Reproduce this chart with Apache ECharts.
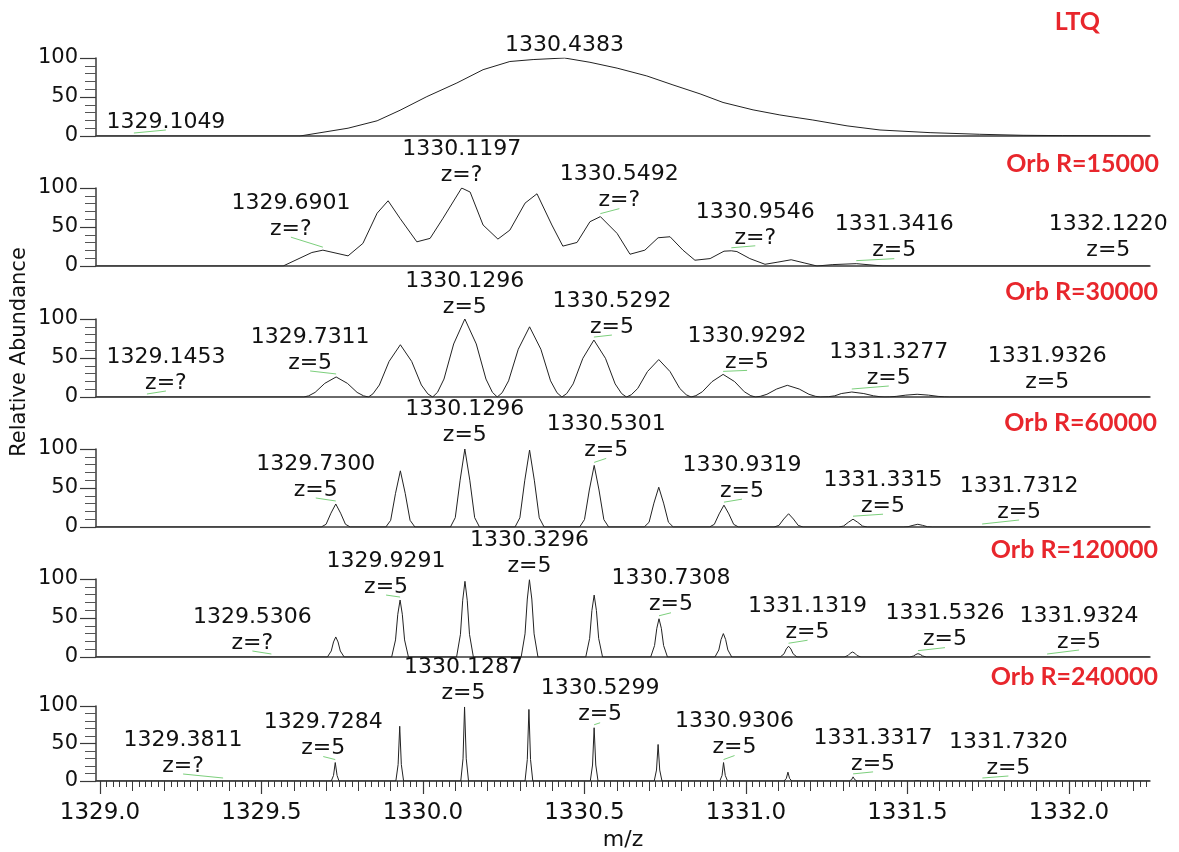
<!DOCTYPE html>
<html>
<head>
<meta charset="utf-8">
<script src="https://cdn.jsdelivr.net/npm/echarts@6/dist/echarts.min.js"></script>
<style>
  html, body { margin: 0; padding: 0; background: #ffffff; }
  #chart { width: 1179px; height: 852px; }
</style>
</head>
<body>
<div id="chart"></div>
<script>
// ---- axis ranges and tick labels ----
const mzRange = [1328.9876, 1332.251];
const majorTickLabels = [1329.0, 1329.5, 1330.0, 1330.5, 1331.0, 1331.5, 1332.0];
const yTickLabels = [0, 50, 100];
const panelTitles = ['LTQ', 'Orb R=15000', 'Orb R=30000', 'Orb R=60000', 'Orb R=120000', 'Orb R=240000'];

// ---- profile spectra: [m/z, relative abundance] ----
const ltqProfile = [
  [1328.99, 0], [1329.619, 0], [1329.768, 10], [1329.858, 19.5], [1329.929, 33], [1330.012, 50.5],
  [1330.105, 68], [1330.186, 85], [1330.269, 95.5], [1330.341, 98], [1330.4383, 100], [1330.517, 94.5],
  [1330.601, 87], [1330.693, 77], [1330.774, 65.5], [1330.858, 54], [1330.929, 43], [1331.022, 33.5],
  [1331.105, 27], [1331.167, 23], [1331.207, 20.5], [1331.313, 13], [1331.415, 7.7], [1331.570, 4.3],
  [1331.724, 2.2], [1331.858, 0.9], [1331.981, 0.5], [1332.25, 0]
];

const orb15000Profile = [
  [1328.99, 0], [1329.567, 0], [1329.656, 17.3], [1329.6901, 20.3], [1329.768, 13], [1329.814, 29],
  [1329.858, 67.7], [1329.892, 83.6], [1329.929, 61], [1329.981, 31], [1330.022, 35.4], [1330.062, 61.2],
  [1330.1197, 100], [1330.146, 94.8], [1330.186, 52.6], [1330.232, 34.5], [1330.269, 46], [1330.316, 80.6],
  [1330.353, 92.6], [1330.399, 52.6], [1330.433, 25.5], [1330.477, 30.2], [1330.517, 56.8], [1330.5492, 63.3],
  [1330.601, 41.8], [1330.641, 15.1], [1330.687, 20.3], [1330.728, 36.2], [1330.765, 37.5], [1330.805, 20.3],
  [1330.842, 7.4], [1330.889, 9.5], [1330.932, 19], [1330.9546, 19.5], [1330.972, 18.5], [1331.012, 9.5],
  [1331.059, 2.2], [1331.099, 5], [1331.14, 8], [1331.18, 4], [1331.22, 0], [1331.269, 1.8],
  [1331.3416, 3], [1331.424, 0], [1332.25, 0]
];

const orb30000Profile = [
  [1328.99, 0], [1329.631, 0], [1329.646, 1.5], [1329.666, 5.9], [1329.696, 17.5], [1329.7311, 25.7],
  [1329.766, 17.5], [1329.796, 5.9], [1329.816, 1.5], [1329.831, 0],
  [1329.845, 4], [1329.865, 15.4], [1329.895, 45.6], [1329.930, 67], [1329.965, 45.6], [1329.995, 15.4],
  [1330.015, 4], [1330.030, 0],
  [1330.045, 6], [1330.065, 23], [1330.095, 68], [1330.1296, 100], [1330.165, 68], [1330.195, 23],
  [1330.215, 6], [1330.230, 0],
  [1330.245, 5.4], [1330.265, 20.7], [1330.295, 61.2], [1330.330, 90], [1330.365, 61.2], [1330.395, 20.7],
  [1330.415, 5.4], [1330.430, 0],
  [1330.445, 4.4], [1330.465, 16.8], [1330.495, 49.6], [1330.5292, 73], [1330.565, 49.6], [1330.595, 16.8],
  [1330.615, 4.4], [1330.630, 0],
  [1330.645, 2.9], [1330.665, 11], [1330.695, 32.6], [1330.730, 48], [1330.765, 32.6], [1330.795, 11],
  [1330.815, 2.9], [1330.830, 0],
  [1330.845, 1.7], [1330.865, 6.7], [1330.895, 19.7], [1330.9292, 29], [1330.965, 19.7], [1330.995, 6.7],
  [1331.015, 1.7], [1331.030, 0],
  [1331.045, 0.9], [1331.065, 3.5], [1331.095, 10.2], [1331.128, 15], [1331.165, 10.2], [1331.195, 3.5],
  [1331.215, 0.9], [1331.230, 0],
  [1331.255, 0.4], [1331.275, 1.5], [1331.295, 4.4], [1331.3277, 6.4], [1331.365, 4.4], [1331.395, 1.5],
  [1331.415, 0.4], [1331.430, 0],
  [1331.445, 0.2], [1331.465, 0.8], [1331.495, 2.4], [1331.530, 3.5], [1331.565, 2.4], [1331.595, 0.8],
  [1331.615, 0.2], [1331.630, 0], [1332.25, 0]
];

const orb60000Profile = [
  [1328.99, 0],
  [1329.685, 0], [1329.700, 3.5], [1329.715, 17.7], [1329.7300, 29.5], [1329.745, 17.7], [1329.760, 3.5], [1329.775, 0],
  [1329.885, 0], [1329.900, 8.6], [1329.915, 43.2], [1329.930, 72], [1329.945, 43.2], [1329.960, 8.6], [1329.975, 0],
  [1330.085, 0], [1330.100, 12], [1330.115, 60], [1330.1296, 100], [1330.145, 60], [1330.160, 12], [1330.175, 0],
  [1330.285, 0], [1330.300, 11.8], [1330.315, 59.2], [1330.330, 98.7], [1330.345, 59.2], [1330.360, 11.8], [1330.375, 0],
  [1330.485, 0], [1330.500, 9.5], [1330.515, 47.4], [1330.5301, 79], [1330.545, 47.4], [1330.560, 9.5], [1330.575, 0],
  [1330.685, 0], [1330.700, 6.1], [1330.715, 30.6], [1330.730, 51], [1330.745, 30.6], [1330.760, 6.1], [1330.775, 0],
  [1330.887, 0], [1330.902, 3.4], [1330.917, 16.8], [1330.9319, 28], [1330.947, 16.8], [1330.962, 3.4], [1330.977, 0],
  [1331.087, 0], [1331.102, 2], [1331.117, 10.2], [1331.132, 17], [1331.147, 10.2], [1331.162, 2], [1331.177, 0],
  [1331.287, 0], [1331.302, 1.2], [1331.317, 6], [1331.3315, 10], [1331.346, 6], [1331.361, 1.2], [1331.376, 0],
  [1331.487, 0], [1331.502, 0.4], [1331.517, 2.1], [1331.532, 3.5], [1331.547, 2.1], [1331.562, 0.4], [1331.577, 0],
  [1332.25, 0]
];

const orb120000Profile = [
  [1328.99, 0],
  [1329.704, 0], [1329.716, 7.7], [1329.723, 19.3], [1329.730, 25.7], [1329.737, 19.3], [1329.744, 7.7], [1329.756, 0],
  [1329.903, 0], [1329.915, 21.9], [1329.922, 54.8], [1329.9291, 73], [1329.936, 54.8], [1329.943, 21.9], [1329.955, 0],
  [1330.104, 0], [1330.116, 29.1], [1330.123, 72.8], [1330.130, 97], [1330.137, 72.8], [1330.144, 29.1], [1330.156, 0],
  [1330.304, 0], [1330.316, 29.7], [1330.323, 74.3], [1330.3296, 99], [1330.337, 74.3], [1330.344, 29.7], [1330.356, 0],
  [1330.504, 0], [1330.516, 23.8], [1330.523, 59.6], [1330.530, 79.4], [1330.537, 59.6], [1330.544, 23.8], [1330.556, 0],
  [1330.705, 0], [1330.717, 14.7], [1330.724, 36.8], [1330.7308, 49], [1330.738, 36.8], [1330.745, 14.7], [1330.757, 0],
  [1330.904, 0], [1330.916, 9], [1330.923, 22.5], [1330.930, 30], [1330.937, 22.5], [1330.944, 9], [1330.956, 0],
  [1331.106, 0], [1331.118, 4.1], [1331.125, 10.4], [1331.1319, 13.8], [1331.139, 10.4], [1331.146, 4.1], [1331.158, 0],
  [1331.304, 0], [1331.316, 1.9], [1331.323, 4.8], [1331.330, 6.4], [1331.337, 4.8], [1331.344, 1.9], [1331.356, 0],
  [1331.507, 0], [1331.519, 1.3], [1331.526, 3.2], [1331.5326, 4.3], [1331.540, 3.2], [1331.547, 1.3], [1331.559, 0],
  [1332.25, 0]
];

const orb240000Profile = [
  [1328.99, 0],
  [1329.716, 0], [1329.723, 7.4], [1329.7284, 24.6], [1329.734, 7.4], [1329.740, 0],
  [1329.916, 0], [1329.923, 21.9], [1329.928, 73], [1329.933, 21.9], [1329.940, 0],
  [1330.117, 0], [1330.124, 29.6], [1330.1287, 98.7], [1330.134, 29.6], [1330.141, 0],
  [1330.316, 0], [1330.323, 28.6], [1330.328, 95.4], [1330.333, 28.6], [1330.340, 0],
  [1330.518, 0], [1330.525, 21.3], [1330.5299, 71], [1330.535, 21.3], [1330.542, 0],
  [1330.716, 0], [1330.723, 14.6], [1330.728, 48.7], [1330.733, 14.6], [1330.740, 0],
  [1330.919, 0], [1330.926, 7.4], [1330.9306, 24.6], [1330.936, 7.4], [1330.943, 0],
  [1331.118, 0], [1331.125, 3.5], [1331.130, 11.8], [1331.135, 3.5], [1331.142, 0],
  [1331.320, 0], [1331.327, 1.7], [1331.3317, 5.5], [1331.337, 1.7], [1331.344, 0],
  [1331.520, 0], [1331.527, 0.4], [1331.532, 1.3], [1331.537, 0.4], [1331.544, 0],
  [1332.25, 0]
];

// ---- labelled centroids per panel: m/z text, charge state, apex abundance ----
const ltqPeakMz = ['1329.1049', '1330.4383'];
const ltqPeakZ = [null, null];
const ltqPeakHeight = [0, 100];

const orb15000PeakMz = ['1329.6901', '1330.1197', '1330.5492', '1330.9546', '1331.3416', '1332.1220'];
const orb15000PeakZ = ['?', '?', '?', '?', '5', '5'];
const orb15000PeakHeight = [20.3, 100, 63.3, 19.5, 3, 0];

const orb30000PeakMz = ['1329.1453', '1329.7311', '1330.1296', '1330.5292', '1330.9292', '1331.3277', '1331.9326'];
const orb30000PeakZ = ['?', '5', '5', '5', '5', '5', '5'];
const orb30000PeakHeight = [0, 25.7, 100, 73, 29, 6.4, 0];

const orb60000PeakMz = ['1329.7300', '1330.1296', '1330.5301', '1330.9319', '1331.3315', '1331.7312'];
const orb60000PeakZ = ['5', '5', '5', '5', '5', '5'];
const orb60000PeakHeight = [29.5, 100, 79, 28, 10, 0];

const orb120000PeakMz = ['1329.5306', '1329.9291', '1330.3296', '1330.7308', '1331.1319', '1331.5326', '1331.9324'];
const orb120000PeakZ = ['?', '5', '5', '5', '5', '5', '5'];
const orb120000PeakHeight = [0, 73, 99, 49, 13.8, 4.3, 0];

const orb240000PeakMz = ['1329.3811', '1329.7284', '1330.1287', '1330.5299', '1330.9306', '1331.3317', '1331.7320'];
const orb240000PeakZ = ['?', '5', '5', '5', '5', '5', '5'];
const orb240000PeakHeight = [0, 24.6, 98.7, 71, 24.6, 5.5, 0];

const profiles = [ltqProfile, orb15000Profile, orb30000Profile, orb60000Profile, orb120000Profile, orb240000Profile];
const peakMz = [ltqPeakMz, orb15000PeakMz, orb30000PeakMz, orb60000PeakMz, orb120000PeakMz, orb240000PeakMz];
const peakZ = [ltqPeakZ, orb15000PeakZ, orb30000PeakZ, orb60000PeakZ, orb120000PeakZ, orb240000PeakZ];
const peakHeight = [ltqPeakHeight, orb15000PeakHeight, orb30000PeakHeight, orb60000PeakHeight, orb120000PeakHeight, orb240000PeakHeight];

// ---- layout ----
const GRID_LEFT = 96, GRID_RIGHT = 29, GRID_HEIGHT = 78;
const gridTops = [58, 188, 319, 449, 579, 706];
// pixel offset of the charge-state line centre from the peak apex
const labelOffsets = [
  [[32, -14], [0, -13]],
  [[-32, -21], [0, -13], [19, -16], [24, -13], [38, -13], [0, -16]],
  [[19, -14], [-26, -14], [0, -12], [18, -13], [24, -12], [37, -14], [0, -15]],
  [[-20, -14], [0, -14], [12, -15], [18, -14], [30, -13], [37, -15]],
  [[-19, -14], [-14, -13], [0, -13], [12, -14], [19, -14], [27, -14], [32, -15]],
  [[-40, -15], [-12, -14], [-1, -14], [6, -13], [11, -15], [20, -13], [26, -13]]
];
// right edge / vertical centre of each panel title
const titleAnchors = [[1100, 22], [1159, 164], [1158, 292], [1157, 423], [1158, 550], [1158, 677]];

const FONT = '"DejaVu Sans", "Liberation Sans", Arial, sans-serif';
const AXIS_COLOR = '#3a3a3a';
const TEXT_COLOR = '#111111';
const LEADER_COLOR = '#7ccf7c';
const TITLE_COLOR = '#e8262c';
const PEAK_FONT = '22px ' + FONT;

// minor tick positions along the m/z axis (every 0.1 and every 0.02)
const tenthTicks = [];
for (let k = 0; k <= 32; k++) tenthTicks.push(Math.round((1329 + k * 0.1) * 1000) / 1000);
const fiftiethTicks = [];
for (let k = 0; k <= 162; k++) fiftiethTicks.push(Math.round((1329 + k * 0.02) * 1000) / 1000);

const grids = gridTops.map(top => ({ left: GRID_LEFT, right: GRID_RIGHT, top: top, height: GRID_HEIGHT }));

const xAxes = gridTops.map((t, i) => ({
  type: 'value', gridIndex: i, position: 'bottom', min: mzRange[0], max: mzRange[1],
  axisLine: { show: true, onZero: false, lineStyle: { color: AXIS_COLOR, width: 1.5 } },
  axisTick: { show: false }, axisLabel: { show: false }, splitLine: { show: false }
}));
Object.assign(xAxes[5], {
  axisTick: { show: true, length: 13, customValues: majorTickLabels, lineStyle: { color: AXIS_COLOR, width: 1.2 } },
  axisLabel: {
    show: true, customValues: majorTickLabels, formatter: v => Number(v).toFixed(1),
    fontFamily: FONT, fontSize: 23, color: TEXT_COLOR, margin: 21
  },
  name: 'm/z', nameLocation: 'middle', nameGap: 48,
  nameTextStyle: { fontFamily: FONT, fontSize: 22, color: TEXT_COLOR }
});
xAxes.push({
  type: 'value', gridIndex: 5, position: 'bottom', min: mzRange[0], max: mzRange[1],
  axisLine: { show: false }, axisLabel: { show: false }, splitLine: { show: false },
  axisTick: { show: true, length: 10, customValues: tenthTicks, lineStyle: { color: AXIS_COLOR, width: 1 } }
});
xAxes.push({
  type: 'value', gridIndex: 5, position: 'bottom', min: mzRange[0], max: mzRange[1],
  axisLine: { show: false }, axisLabel: { show: false }, splitLine: { show: false },
  axisTick: { show: true, length: 6, customValues: fiftiethTicks, lineStyle: { color: AXIS_COLOR, width: 1 } }
});

const yAxes = gridTops.map((t, i) => ({
  type: 'value', gridIndex: i, min: yTickLabels[0], max: yTickLabels[yTickLabels.length - 1], interval: 50,
  axisLine: { show: true, lineStyle: { color: AXIS_COLOR, width: 1.5 } },
  axisTick: { show: true, length: 16, lineStyle: { color: AXIS_COLOR, width: 1.2 } },
  minorTick: { show: true, splitNumber: 5, length: 11, lineStyle: { color: '#555555', width: 1 } },
  axisLabel: { fontFamily: FONT, fontSize: 21, color: TEXT_COLOR, margin: 18 },
  splitLine: { show: false }, minorSplitLine: { show: false }
}));

const lineSeries = profiles.map((d, i) => ({
  type: 'line', xAxisIndex: i, yAxisIndex: i, data: d,
  symbol: 'none', showSymbol: false, silent: true, clip: true,
  lineStyle: { color: '#222222', width: 1 }, z: 3
}));

function annotationSeries(p) {
  const mzs = peakMz[p], zs = peakZ[p], hs = peakHeight[p], offs = labelOffsets[p];
  return {
    type: 'custom', xAxisIndex: p, yAxisIndex: p, clip: false, silent: true, z: 6,
    data: mzs.map((m, i) => [parseFloat(m), hs[i], i]),
    renderItem: (params, api) => {
      const i = api.value(2);
      const pt = api.coord([api.value(0), api.value(1)]);
      const dx = offs[i][0], dy = offs[i][1];
      const zx = pt[0] + dx, zy = pt[1] + dy;
      const children = [];
      if (Math.abs(dx) >= 4) {
        children.push({
          type: 'line',
          shape: { x1: pt[0], y1: pt[1] - 3, x2: zx, y2: zy + 8 },
          style: { stroke: LEADER_COLOR, lineWidth: 1 }
        });
      }
      const hasZ = zs[i] !== null;
      children.push({
        type: 'text',
        style: {
          text: mzs[i], x: zx, y: hasZ ? zy - 26 : zy,
          textAlign: 'center', textVerticalAlign: 'middle',
          font: PEAK_FONT, fill: TEXT_COLOR
        }
      });
      if (hasZ) {
        children.push({
          type: 'text',
          style: {
            text: 'z=' + zs[i], x: zx, y: zy,
            textAlign: 'center', textVerticalAlign: 'middle',
            font: PEAK_FONT, fill: TEXT_COLOR
          }
        });
      }
      return { type: 'group', children: children };
    }
  };
}

const titleGraphics = panelTitles.map((txt, i) => ({
  type: 'text', x: titleAnchors[i][0], y: titleAnchors[i][1], silent: true,
  style: {
    text: txt, textAlign: 'right', textVerticalAlign: 'middle',
    font: 'bold 25px Lato, "Open Sans", sans-serif', fill: TITLE_COLOR
  }
}));

const chart = echarts.init(document.getElementById('chart'), null, { renderer: 'canvas' });
chart.setOption({
  animation: false,
  backgroundColor: '#ffffff',
  grid: grids,
  xAxis: xAxes,
  yAxis: yAxes,
  series: lineSeries.concat(profiles.map((d, i) => annotationSeries(i))),
  graphic: titleGraphics.concat([{
    type: 'text', x: 20, y: 352, rotation: Math.PI / 2, silent: true,
    style: {
      text: 'Relative Abundance', textAlign: 'center', textVerticalAlign: 'middle',
      font: '21px ' + FONT, fill: TEXT_COLOR
    }
  }])
});
</script>
</body>
</html>
